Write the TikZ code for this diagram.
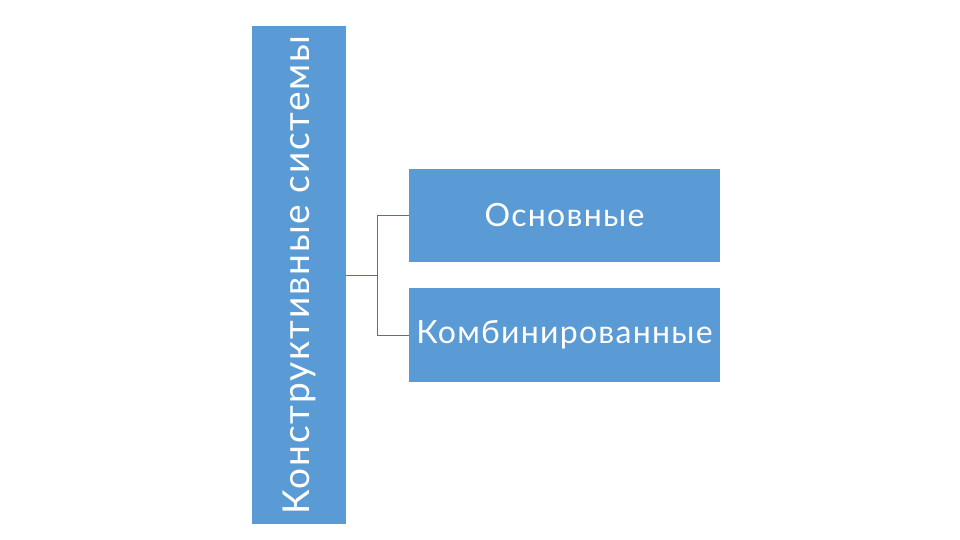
\documentclass[tikz,border=0pt]{standalone}
\usepackage{fontspec}
\setmainfont{Lato}
\definecolor{boxblue}{HTML}{5B9BD5}
\definecolor{linkgray}{HTML}{4E7396}
\tikzset{
  blockbox/.style={fill=boxblue,text=white,inner sep=0pt,align=center},
  link/.style={draw=linkgray,line width=0.8pt}
}
\begin{document}
\begin{tikzpicture}[x=1pt,y=-1pt]
  \useasboundingbox (0,0) rectangle (960,540);

  %% main block, text runs upward
  \node[blockbox,rotate=90,minimum width=498pt,minimum height=94pt,
        font=\fontsize{37}{40}\selectfont\addfontfeatures{LetterSpace=5}] (sys) at (299,275) {Конструктивные системы};

  %% sub blocks
  \node[blockbox,minimum width=311pt,minimum height=93pt,
        font=\fontsize{32}{36}\selectfont\addfontfeatures{LetterSpace=4}] (osn) at (564.5,215.5) {Основные};
  \node[blockbox,minimum width=311pt,minimum height=94pt,
        font=\fontsize{32}{36}\selectfont\addfontfeatures{LetterSpace=4}] (komb) at (564.5,335) {Комбинированные};

  %% links
  \draw[link] (sys.south) -- ++(31,0) coordinate (fork);
  \draw[link] (fork) |- (osn.west);
  \draw[link] (fork) |- (komb.west);
\end{tikzpicture}
\end{document}
